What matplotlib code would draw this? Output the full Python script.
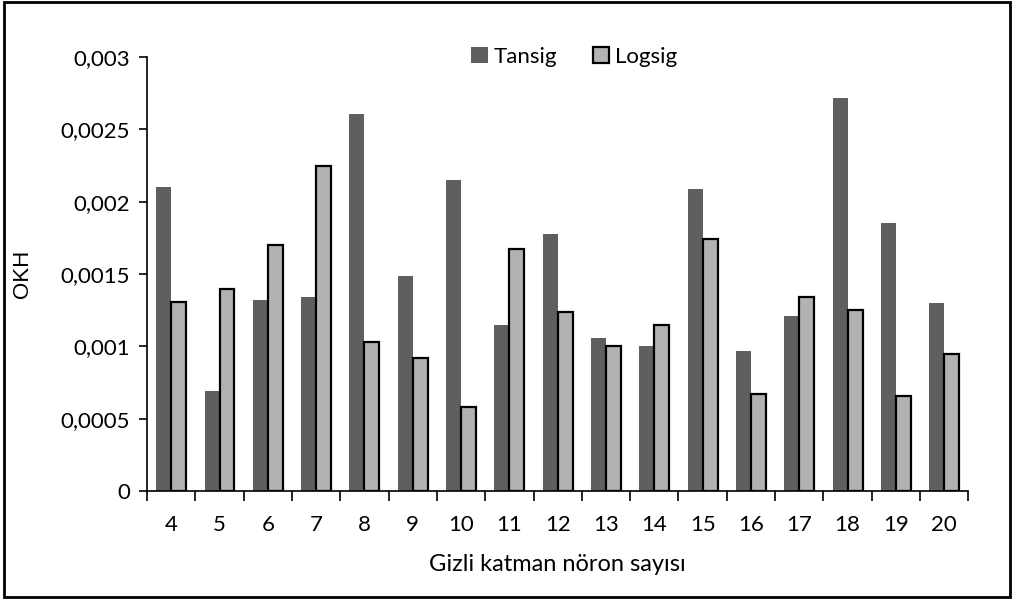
import numpy as np
import matplotlib; matplotlib.use("Agg")
import matplotlib.pyplot as plt
from matplotlib.patches import Rectangle

plt.rcParams['font.family'] = ['Lato', 'DejaVu Sans']

neurons = [4, 5, 6, 7, 8, 9, 10, 11, 12, 13, 14, 15, 16, 17, 18, 19, 20]
tansig = [0.00210, 0.00069, 0.00132, 0.00134, 0.00261, 0.00149, 0.00215, 0.00115, 0.00178,
          0.00106, 0.00100, 0.00209, 0.00097, 0.00121, 0.00272, 0.00185, 0.00130]
logsig = [0.00131, 0.00140, 0.00170, 0.00225, 0.00103, 0.00092, 0.00058, 0.00167, 0.00124,
          0.00100, 0.00115, 0.00174, 0.00067, 0.00134, 0.00125, 0.00066, 0.00095]
yticks = [0, 0.0005, 0.001, 0.0015, 0.002, 0.0025, 0.003]
ytick_labels = ["0", "0,0005", "0,001", "0,0015", "0,002", "0,0025", "0,003"]

fig = plt.figure(figsize=(10.14, 6.01), dpi=100)
ax = fig.add_axes([0.145, 0.183, 0.81, 0.722])

x = np.arange(len(neurons))
w = 0.31
ax.bar(x - w / 2, tansig, w, color="#5f5f5f", label="Tansig", zorder=2)
ax.bar(x + w / 2, logsig, w, color="#b2b2b2", edgecolor="black", lw=1.6, label="Logsig", zorder=2)

ax.set_xlim(-0.5, len(neurons) - 0.5)
ax.set_ylim(0, 0.003)
ax.set_yticks(yticks)
ax.set_yticklabels(ytick_labels)
ax.set_xticks(x)
ax.set_xticklabels([str(n) for n in neurons])
ax.set_xticks(np.arange(len(neurons) + 1) - 0.5, minor=True)
ax.tick_params(axis="x", which="major", length=0, pad=17, labelsize=16)
ax.tick_params(axis="x", which="minor", length=7, width=1.2, direction="out")
ax.tick_params(axis="y", length=6, width=1.2, direction="out", labelsize=16, pad=6)

for s in ["top", "right"]:
    ax.spines[s].set_visible(False)
for s in ["left", "bottom"]:
    ax.spines[s].set_linewidth(1.2)

ax.set_xlabel("Gizli katman nöron sayısı", fontsize=17, labelpad=14)
ax.set_ylabel("OKH", fontsize=16, family=["Liberation Sans", "DejaVu Sans"], labelpad=20)

ax.legend(loc="upper center", bbox_to_anchor=(0.52, 1.07), ncol=2, frameon=False,
          fontsize=16, handlelength=0.75, handleheight=0.75, handletextpad=0.25, columnspacing=1.6)

fig.patches.append(Rectangle((0.004, 0.006), 0.992, 0.99, transform=fig.transFigure,
                             fill=False, edgecolor="black", lw=2))

plt.savefig("out.png", dpi=100)
plt.close()
